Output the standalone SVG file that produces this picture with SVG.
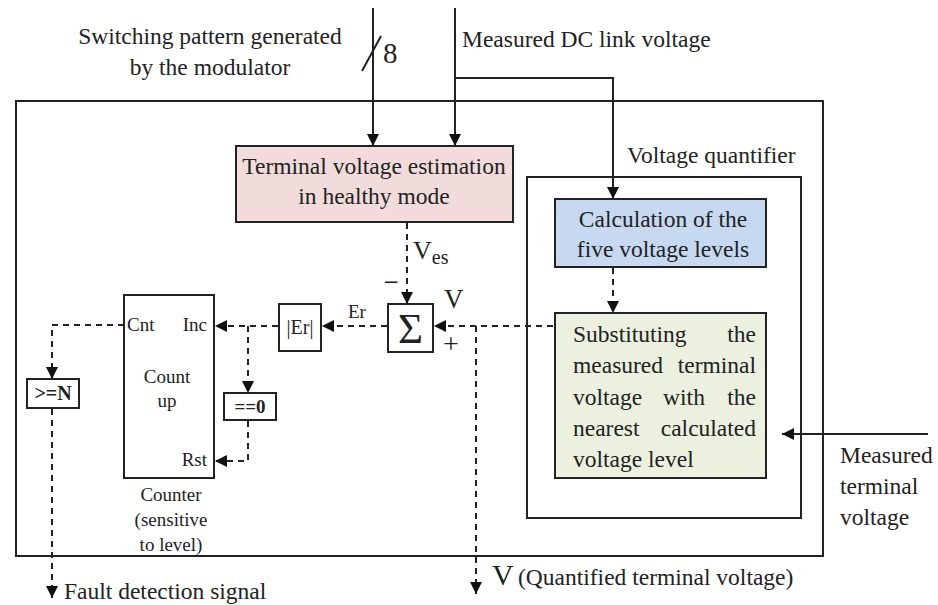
<svg xmlns="http://www.w3.org/2000/svg" width="938" height="605" viewBox="0 0 938 605">
<defs>
<style>
text{font-family:"Liberation Serif","Times New Roman",serif;fill:#222;}
.t20{font-size:23.5px;}
.t19{font-size:19px;}
.t18{font-size:18px;}
.b{font-weight:bold;}
.box{stroke:#222;stroke-width:2;fill:#fff;}
.ln{stroke:#222;stroke-width:2;fill:none;}
.ds{stroke:#222;stroke-width:2;fill:none;stroke-dasharray:6 5;}
</style>
<marker id="ah" viewBox="0 0 10 10" refX="10" refY="5" markerWidth="12" markerHeight="12" orient="auto" markerUnits="userSpaceOnUse"><path d="M0,0 L10,5 L0,10 z" fill="#111"/></marker>
</defs>
<rect width="938" height="605" fill="#fff"/>

<g id="outer">
<rect x="16" y="101" width="807" height="455" class="box" style="fill:none"/>
</g>

<g id="labels-top">
<text class="t20" x="210" y="44" text-anchor="middle">Switching pattern generated</text>
<text class="t20" x="210" y="75" text-anchor="middle">by the modulator</text>
<text x="383" y="63" style="font-size:29px">8</text>
<text class="t20" x="462" y="47">Measured DC link voltage</text>
</g>

<g id="connectors">
<line x1="373" y1="8" x2="373" y2="146" class="ln" marker-end="url(#ah)"/>
<line x1="362" y1="71" x2="381" y2="36" class="ln"/>
<line x1="455" y1="8" x2="455" y2="146" class="ln" marker-end="url(#ah)"/>
<polyline points="455,78 613,78 613,199" class="ln" marker-end="url(#ah)"/>
<line x1="407" y1="223" x2="407" y2="304" class="ds" marker-end="url(#ah)"/>
<line x1="553" y1="326" x2="434" y2="326" class="ds" marker-end="url(#ah)"/>
<polyline points="476,326 476,594" class="ds" marker-end="url(#ah)"/>
<line x1="387" y1="326" x2="322" y2="326" class="ds" marker-end="url(#ah)"/>
<line x1="278" y1="326" x2="215" y2="326" class="ds" marker-end="url(#ah)"/>
<polyline points="248,326 248,393" class="ds" marker-end="url(#ah)"/>
<polyline points="248,421 248,461 215,461" class="ds" marker-end="url(#ah)"/>
<polyline points="124,325 52,325 52,379" class="ds" marker-end="url(#ah)"/>
<line x1="52" y1="409" x2="52" y2="598" class="ds" marker-end="url(#ah)"/>
<line x1="613" y1="268" x2="613" y2="313" class="ds" marker-end="url(#ah)"/>
<line x1="928" y1="434" x2="782" y2="434" class="ln" marker-end="url(#ah)"/>
</g>

<g id="estimation">
<rect x="236" y="146" width="277" height="76" class="box" style="fill:#f2dcdb"/>
<text class="t20" x="374" y="174" text-anchor="middle">Terminal voltage estimation</text>
<text class="t20" x="374" y="204" text-anchor="middle">in healthy mode</text>
</g>

<g id="ves-label">
<text x="413" y="259" style="font-size:26px">V<tspan style="font-size:20px" dy="5">es</tspan></text>
<text x="391" y="291" text-anchor="middle" style="font-size:27px">−</text>
</g>

<g id="sum">
<rect x="388" y="304" width="45" height="48" class="box"/>
<text x="410.5" y="343" text-anchor="middle" style="font-size:43px">Σ</text>
<text x="444" y="308" style="font-size:27px">V</text>
<text x="451" y="353" text-anchor="middle" style="font-size:28px">+</text>
</g>

<g id="abs">
<text class="t19" x="348" y="318">Er</text>
<rect x="279" y="304" width="42" height="47" class="box"/>
<text x="300" y="334" text-anchor="middle" style="font-size:20px">|Er|</text>
</g>

<g id="counter">
<rect x="124" y="295" width="90" height="183" class="box"/>
<text class="t19" x="127" y="331">Cnt</text>
<text class="t19" x="207" y="331" text-anchor="end">Inc</text>
<text class="t19" x="167" y="383" text-anchor="middle">Count</text>
<text class="t19" x="167" y="407" text-anchor="middle">up</text>
<text class="t19" x="207" y="466" text-anchor="end">Rst</text>
<text class="t19" x="171" y="501" text-anchor="middle">Counter</text>
<text class="t19" x="171" y="526" text-anchor="middle">(sensitive</text>
<text class="t19" x="171" y="551" text-anchor="middle">to level)</text>
</g>

<g id="eq0">
<rect x="224" y="393" width="52" height="27" class="box"/>
<text class="b" x="250" y="413" text-anchor="middle" style="font-size:19px">==0</text>
</g>

<g id="geN">
<rect x="27" y="379" width="52" height="29" class="box"/>
<text class="b" x="53" y="400" text-anchor="middle" style="font-size:20px">&gt;=N</text>
</g>

<g id="fault-label">
<text class="t20" x="64" y="599">Fault detection signal</text>
</g>

<g id="quantifier">
<rect x="527" y="177" width="274" height="341" class="box" style="fill:none"/>
<text class="t20" x="627" y="163">Voltage quantifier</text>
</g>

<g id="calc">
<rect x="555" y="199" width="211" height="68" class="box" style="fill:#c6d9f1"/>
<text class="t20" x="663" y="227" text-anchor="middle">Calculation of the</text>
<text class="t20" x="663" y="257" text-anchor="middle">five voltage levels</text>
</g>

<g id="subst">
<rect x="555" y="313" width="211" height="165" class="box" style="fill:#ebf1de"/>
<text class="t20" x="573" y="342">Substituting</text>
<text class="t20" x="756" y="342" text-anchor="end">the</text>
<text class="t20" x="573" y="373">measured</text>
<text class="t20" x="756" y="373" text-anchor="end">terminal</text>
<text class="t20" x="573" y="405">voltage</text>
<text class="t20" x="684" y="405" text-anchor="middle">with</text>
<text class="t20" x="756" y="405" text-anchor="end">the</text>
<text class="t20" x="573" y="436">nearest</text>
<text class="t20" x="756" y="436" text-anchor="end">calculated</text>
<text class="t20" x="573" y="467">voltage level</text>
</g>

<g id="measured-label">
<text class="t20" x="840" y="463">Measured</text>
<text class="t20" x="840" y="494">terminal</text>
<text class="t20" x="840" y="525">voltage</text>
</g>

<g id="quantified-label">
<text x="492" y="585" style="font-size:30px">V</text>
<text class="t20" x="518" y="585">(Quantified terminal voltage)</text>
</g>
</svg>
